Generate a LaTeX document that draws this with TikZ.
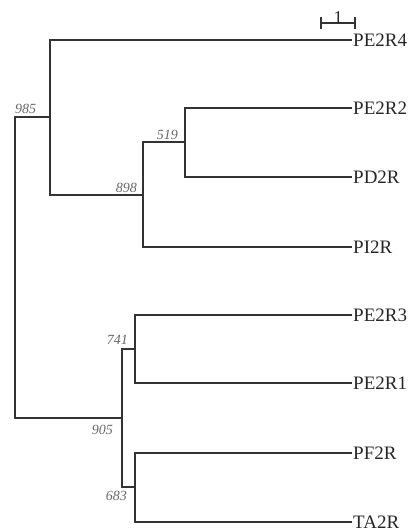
\documentclass[tikz,border=0pt]{standalone}
\usepackage{fontspec}
\setmainfont{Liberation Serif}
\usetikzlibrary{positioning}
\definecolor{branchgray}{HTML}{333333}
\definecolor{bootgray}{HTML}{666666}

\begin{document}
\begin{tikzpicture}[x=1pt, y=-1pt,
    branch/.style={draw=branchgray, line width=1.2pt},
    leaf/.style={anchor=west, inner sep=1pt, text=black!85, font=\fontsize{19}{19}\selectfont},
    boot/.style={text=bootgray, inner sep=1pt, font=\fontsize{14}{14}\selectfont\itshape}]
    \useasboundingbox (0,0) rectangle (408,531);
    % Leaves
    \node[leaf] (PE2R4) at (352,40) {PE2R4};
    \node[leaf] (PE2R2) at (352,108) {PE2R2};
    \node[leaf] (PD2R) at (352,177) {PD2R};
    \node[leaf] (PI2R) at (352,247) {PI2R};
    \node[leaf] (PE2R3) at (352,315) {PE2R3};
    \node[leaf] (PE2R1) at (352,383) {PE2R1};
    \node[leaf] (PF2R) at (352,453) {PF2R};
    \node[leaf] (TA2R) at (352,522) {TA2R};
    % Internal nodes
    \coordinate (root) at (15,267);
    \coordinate (n985) at (50,117);
    \coordinate (n898) at (143,195);
    \coordinate (n519) at (185,142);
    \coordinate (n905) at (122,418);
    \coordinate (n741) at (135,349);
    \coordinate (n683) at (135,487);
    % Branches
    \draw[branch] (root) |- (n985);
    \draw[branch] (root) |- (n905);
    \draw[branch] (n985) |- (PE2R4.west);
    \draw[branch] (n985) |- (n898);
    \draw[branch] (n898) |- (n519);
    \draw[branch] (n898) |- (PI2R.west);
    \draw[branch] (n519) |- (PE2R2.west);
    \draw[branch] (n519) |- (PD2R.west);
    \draw[branch] (n905) |- (n741);
    \draw[branch] (n905) |- (n683);
    \draw[branch] (n741) |- (PE2R3.west);
    \draw[branch] (n741) |- (PE2R1.west);
    \draw[branch] (n683) |- (PF2R.west);
    \draw[branch] (n683) |- (TA2R.west);
    % Bootstrap values
    \node[boot, anchor=south west] (b985) at (14,115) {985};
    \node[boot, anchor=south east] (b898) at (138,194) {898};
    \node[boot, anchor=south east] (b519) at (179,141) {519};
    \node[boot, anchor=south east] (b741) at (129,346) {741};
    \node[boot, anchor=north east] (b905) at (114,424) {905};
    \node[boot, anchor=north east] (b683) at (128,490) {683};
    % Scale bar
    \coordinate (barL) at (321,23);
    \coordinate (barR) at (355,23);
    \draw[branch] (barL) -- (barR);
    \draw[branch] ([yshift=-6pt]barL) -- ([yshift=6pt]barL);
    \draw[branch] ([yshift=-6pt]barR) -- ([yshift=6pt]barR);
    \node[inner sep=0pt, anchor=base, text=black!85, font=\fontsize{18}{18}\selectfont] (barlabel) at (338,23) {1};
\end{tikzpicture}
\end{document}
